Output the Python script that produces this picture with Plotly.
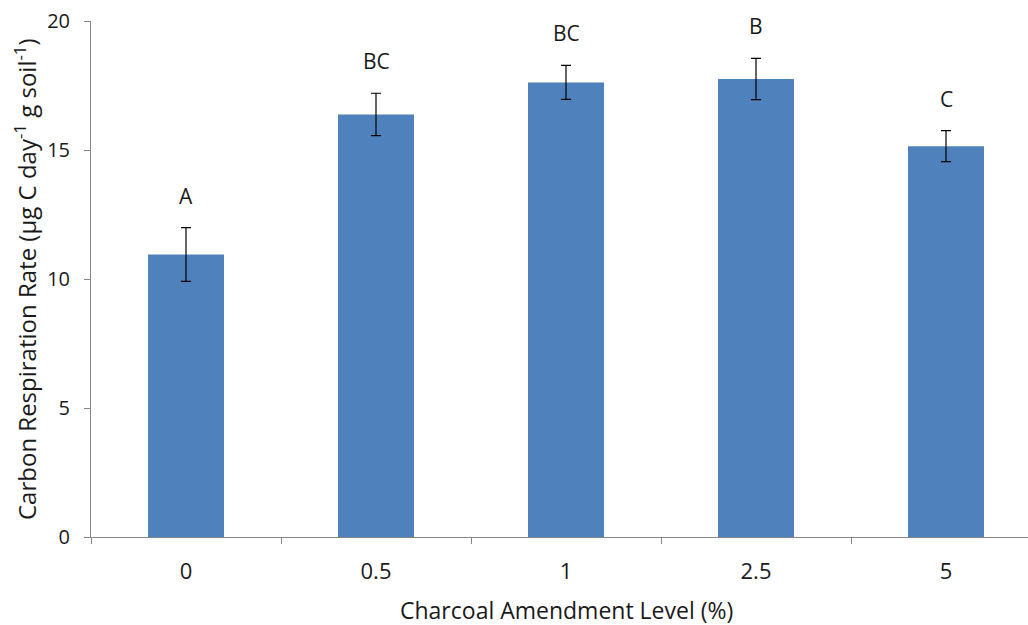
import plotly.graph_objects as go

# Charcoal amendment levels (%) and measured respiration
levels = ["0", "0.5", "1", "2.5", "5"]
rates = [10.95, 16.38, 17.62, 17.75, 15.15]
errors = [1.04, 0.82, 0.66, 0.80, 0.60]
groups = ["A", "BC", "BC", "B", "C"]

FONT = "Open Sans"
INK = "#1a1a1a"
BAR = "#4F81BD"
AXIS = "#868686"

fig = go.Figure()
fig.add_trace(go.Bar(
    x=levels,
    y=rates,
    width=0.4,
    marker=dict(color=BAR, line=dict(width=0)),
    error_y=dict(type="data", array=errors, visible=True,
                 color="black", thickness=1.2, width=5),
))

# significance letters above each error bar (category index positions)
for i, (r, e, g) in enumerate(zip(rates, errors, groups)):
    fig.add_annotation(x=i, y=r + e, text=g, showarrow=False,
                       yanchor="middle", yshift=32,
                       font=dict(family=FONT, size=21, color=INK))

fig.add_annotation(xref="paper", yref="paper", x=(1041 - 91) / 2 / 937, y=0,
                   yanchor="middle", yshift=-73, text="Charcoal Amendment Level (%)",
                   showarrow=False, font=dict(family=FONT, size=23, color=INK))
fig.add_annotation(xref="paper", yref="paper", x=0, y=0.5, xanchor="center",
                   xshift=-66, textangle=-90,
                   text="Carbon Respiration Rate (µg C day<sup>-1</sup> g soil<sup>-1</sup>)",
                   showarrow=False, font=dict(family=FONT, size=24, color=INK))

fig.update_layout(
    width=1028, height=625,
    margin=dict(l=91, r=0, t=21, b=88),
    plot_bgcolor="white", paper_bgcolor="white",
    showlegend=False,
    font=dict(family=FONT, size=21, color=INK),
    xaxis=dict(type="category", range=[-0.5, 4.5 - 13 / 190],
               showline=True, linecolor=AXIS, linewidth=1,
               ticks="outside", tickson="boundaries", ticklen=6, tickcolor=AXIS,
               tickfont=dict(size=22), ticklabelstandoff=15,
               showgrid=False, zeroline=False),
    yaxis=dict(range=[0, 20], tickvals=[0, 5, 10, 15, 20],
               showline=True, linecolor=AXIS, linewidth=1,
               ticks="outside", ticklen=6, tickcolor=AXIS,
               tickfont=dict(size=20), ticklabelstandoff=10,
               showgrid=False, zeroline=False),
)

fig.write_html("out.html")
